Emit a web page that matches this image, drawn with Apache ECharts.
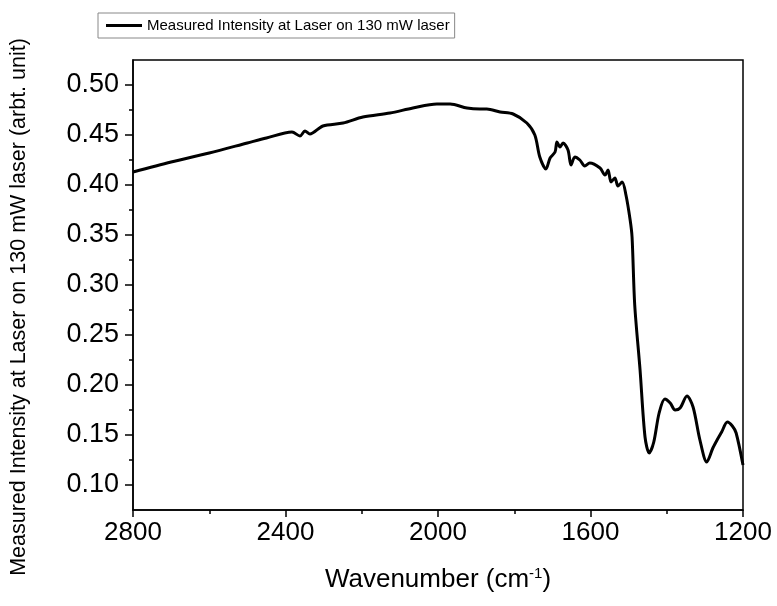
<!DOCTYPE html>
<html>
<head>
<meta charset="utf-8">
<script src="https://cdn.jsdelivr.net/npm/echarts@6/dist/echarts.min.js"></script>
<style>
html,body{margin:0;padding:0;background:#fff}
#chart{width:777px;height:606px}
</style>
</head>
<body>
<div id="chart"></div>
<script>
// wavenumber (cm-1) and intensity
var wavenumber = [2800, 2700, 2600, 2500, 2450, 2383, 2362, 2349, 2336, 2302, 2249, 2197, 2126, 2066, 2003, 1968, 1924, 1890, 1872, 1837, 1803, 1767, 1746, 1733, 1717, 1706, 1693, 1688, 1680, 1672, 1659, 1651, 1641, 1628, 1615, 1602, 1575, 1562, 1554, 1546, 1536, 1528, 1517, 1507, 1496, 1491, 1484, 1470, 1457, 1446, 1434, 1420, 1405, 1391, 1378, 1365, 1347, 1331, 1313, 1295, 1279, 1268, 1256, 1241, 1228, 1218, 1200]
var intensity = [0.413, 0.423, 0.432, 0.442, 0.447, 0.453, 0.449, 0.454, 0.451, 0.459, 0.462, 0.468, 0.472, 0.477, 0.481, 0.481, 0.477, 0.476, 0.476, 0.473, 0.471, 0.462, 0.45, 0.428, 0.416, 0.427, 0.433, 0.443, 0.438, 0.442, 0.435, 0.42, 0.428, 0.425, 0.419, 0.422, 0.417, 0.41, 0.415, 0.403, 0.407, 0.399, 0.403, 0.39, 0.365, 0.348, 0.28, 0.215, 0.148, 0.132, 0.143, 0.172, 0.186, 0.182, 0.175, 0.177, 0.189, 0.178, 0.145, 0.123, 0.137, 0.145, 0.153, 0.163, 0.159, 0.152, 0.12]
var yMajor = [0.10, 0.15, 0.20, 0.25, 0.30, 0.35, 0.40, 0.45, 0.50]
var yMinor = [0.125, 0.175, 0.225, 0.275, 0.325, 0.375, 0.425, 0.475]
var seriesName = 'Measured Intensity at Laser on 130 mW laser'

var pts = []
for (var i = 0; i < wavenumber.length; i++) {
    pts.push([wavenumber[i], intensity[i]])
}

var font = 'Liberation Sans, Arial, sans-serif'
var chart = echarts.init(document.getElementById('chart'))
var option = {
    animation: false,
    grid: {
        left: 133, right: 34, top: 60, bottom: 96,
        show: true, borderColor: '#000', borderWidth: 1.5
    },
    legend: {
        data: [{name: seriesName, icon: 'rect'}],
        left: 98, top: 13,
        padding: [5, 5, 5, 8],
        borderColor: '#888', borderWidth: 1,
        itemWidth: 36, itemHeight: 3, itemGap: 4,
        itemStyle: {color: '#000'},
        textStyle: {fontFamily: font, fontSize: 15, color: '#000'}
    },
    xAxis: {
        type: 'value', inverse: true,
        min: 1200, max: 2800, interval: 400,
        name: '{a|Wavenumber (cm}{s|-1}{a|)}',
        nameLocation: 'middle', nameGap: 56,
        nameTextStyle: {
            rich: {
                a: {fontFamily: font, fontSize: 26, color: '#000'},
                s: {fontFamily: font, fontSize: 15, color: '#000', verticalAlign: 'top', padding: [0, 0, 12, 0]}
            }
        },
        axisLine: {lineStyle: {color: '#000', width: 1.5}},
        axisTick: {length: 7, lineStyle: {color: '#000', width: 1.5}},
        minorTick: {show: true, splitNumber: 2, length: 4, lineStyle: {color: '#000', width: 1.5}},
        axisLabel: {
            fontFamily: font, fontSize: 26, color: '#000', margin: 10,
            formatter: function (v) { return String(v) }
        },
        splitLine: {show: false}
    },
    yAxis: [{
        type: 'value', min: 0.075, max: 0.525,
        name: 'Measured Intensity at Laser on 130 mW laser (arbt. unit)',
        nameLocation: 'middle', nameGap: 103, nameRotate: 90,
        nameTextStyle: {fontFamily: font, fontSize: 21.5, color: '#000', padding: [0, 44, 0, 0]},
        axisLine: {show: true, lineStyle: {color: '#000', width: 1.5}},
        axisTick: {show: true, length: 8, customValues: yMajor, lineStyle: {color: '#000', width: 1.5}},
        axisLabel: {
            fontFamily: font, fontSize: 27, color: '#000', margin: 14,
            customValues: yMajor,
            formatter: function (v) { return v.toFixed(2) }
        },
        splitLine: {show: false}
    }, {
        type: 'value', min: 0.075, max: 0.525, position: 'left',
        axisLine: {show: false},
        axisTick: {show: true, length: 4, customValues: yMinor, lineStyle: {color: '#000', width: 1.5}},
        axisLabel: {show: false},
        splitLine: {show: false}
    }],
    series: [{
        name: seriesName,
        type: 'line',
        data: pts,
        symbol: 'none',
        smooth: 0.3,
        lineStyle: {color: '#000', width: 3},
        itemStyle: {color: '#000'}
    }]
}
chart.setOption(option)
</script>
</body>
</html>
